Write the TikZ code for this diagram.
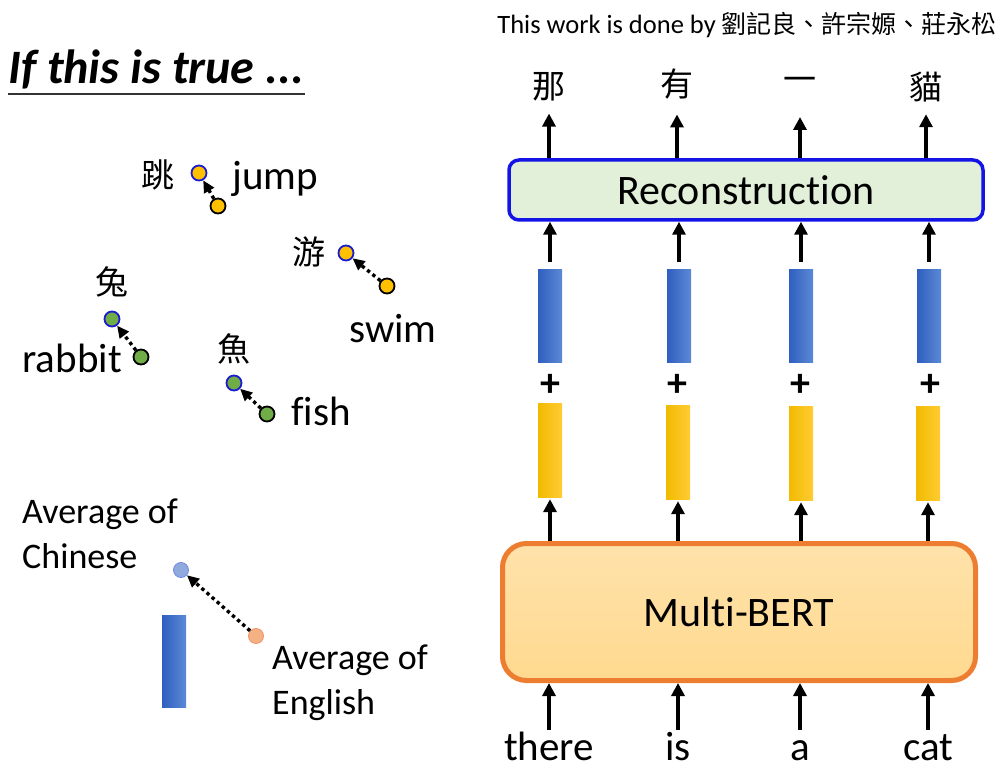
\documentclass[tikz,border=0pt]{standalone}
\usepackage{fontspec}
\setmainfont{Carlito}[Ligatures=NoCommon]
\newfontfamily\cjk{Noto Sans CJK TC}
\usetikzlibrary{arrows.meta,positioning}

\definecolor{rimblue}{HTML}{1C1CD0}
\definecolor{ptyellow}{HTML}{FFC000}
\definecolor{ptgreen}{HTML}{70AD47}
\definecolor{avgblue}{HTML}{8FAADC}
\definecolor{avgorange}{HTML}{F4B183}
\definecolor{barblueL}{HTML}{2F5FBF}
\definecolor{barblueR}{HTML}{5C89D6}
\definecolor{baryelL}{HTML}{F2BA00}
\definecolor{baryelR}{HTML}{FFCC33}
\definecolor{recfill}{HTML}{E2F0D9}
\definecolor{recdraw}{HTML}{1414E6}
\definecolor{mbfill}{HTML}{FFD98F}
\definecolor{mbdraw}{HTML}{ED7D31}

\begin{document}
\begin{tikzpicture}[x=1pt,y=-1pt,
  vec/.style={circle, inner sep=0pt, minimum size=15pt, line width=1.8pt},
  zhvec/.style={vec, draw=rimblue},
  envec/.style={vec, draw=black},
  dotarrow/.style={line width=3.4pt, dash pattern=on 3.4pt off 3.4pt, -{Triangle[length=12pt,width=11pt]}},
  uparrow/.style={line width=4pt, -{Triangle[length=13pt,width=13pt]}},
  word/.style={inner sep=0pt, font=\fontsize{41}{49}\selectfont},
  hanzi/.style={inner sep=0pt, font=\cjk\fontsize{33}{40}\selectfont},
  colword/.style={word, text height=30pt, text depth=9pt, anchor=base},
  bluebar/.style={rectangle, inner sep=0pt, minimum width=24pt, minimum height=92pt, left color=barblueL, right color=barblueR},
  yellowbar/.style={rectangle, inner sep=0pt, minimum width=24pt, minimum height=94pt, left color=baryelL, right color=baryelR},
  plus/.style={inner sep=0pt, font=\bfseries\fontsize{40}{48}\selectfont}
]
\useasboundingbox (0,0) rectangle (999,778);

% title
\node[anchor=base west, inner sep=0pt, font=\bfseries\itshape\fontsize{48}{57}\selectfont] (title) at (8,84) {If this is true ...};
\draw[line width=1.5pt, black!80] (8,94) -- (305,94);

% word pairs
\node[hanzi] (tiao) at (158,175) {跳};
\node[zhvec, fill=ptyellow] (jumpZh) at (199,173) {};
\node[envec, fill=ptyellow] (jumpEn) at (218,206) {};
\node[word, anchor=base west] (jump) at (232,190) {jump};
\draw[dotarrow] (jumpEn) -- (jumpZh);

\node[hanzi] (you) at (309,252) {游};
\node[zhvec, fill=ptyellow] (swimZh) at (346,253) {};
\node[envec, fill=ptyellow] (swimEn) at (387,286) {};
\node[word, anchor=base west] (swim) at (349,342) {swim};
\draw[dotarrow] (swimEn) -- (swimZh);

\node[hanzi] (tu) at (112,282) {兔};
\node[zhvec, fill=ptgreen] (rabbitZh) at (112,319) {};
\node[envec, fill=ptgreen] (rabbitEn) at (141,357) {};
\node[word, anchor=base east] (rabbit) at (122,372) {rabbit};
\draw[dotarrow] (rabbitEn) -- (rabbitZh);

\node[hanzi] (yu) at (234,349) {魚};
\node[zhvec, fill=ptgreen] (fishZh) at (234,383) {};
\node[envec, fill=ptgreen] (fishEn) at (267,414) {};
\node[word, anchor=base west] (fish) at (291,425) {fish};
\draw[dotarrow] (fishEn) -- (fishZh);

% averages
\node[anchor=north west, inner sep=0pt, align=left, font=\fontsize{36}{45}\selectfont] (avgZhText) at (22,499) {Average of\\Chinese};
\node[vec, line width=0.8pt, draw=avgblue!80!blue, fill=avgblue] (avgZh) at (181,570) {};
\node[vec, line width=0.8pt, draw=avgorange!80!red, fill=avgorange] (avgEn) at (256,636) {};
\node[anchor=north west, inner sep=0pt, align=left, font=\fontsize{36}{45}\selectfont] (avgEnText) at (272,645) {Average of\\English};
\draw[dotarrow] (avgEn) -- (avgZh);
\node[bluebar] (diff) at (174,661) {};

% right side
\node[anchor=base east, inner sep=0pt, font=\fontsize{26.5}{32}\selectfont] (credit) at (997,34) {This work is done by {\cjk\fontsize{25}{32}\selectfont 劉記良、許宗嫄、莊永松}};

\node[rectangle, rounded corners=10pt, draw=recdraw, line width=3.5pt, fill=recfill, minimum width=474pt, minimum height=60pt, font=\fontsize{42}{50}\selectfont] (rec) at (746,190) {Reconstruction};
\node[rectangle, rounded corners=24pt, draw=mbdraw, line width=5pt, top color=mbfill!75!white, bottom color=mbfill, minimum width=473pt, minimum height=137pt, font=\fontsize{42}{50}\selectfont] (mb) at (739,612) {Multi-BERT};

% outputs
\node[hanzi] (out1) at (549,87) {那};
\node[hanzi] (out2) at (677,84) {有};
\node[hanzi] (out3) at (800,84) {一};
\node[hanzi] (out4) at (926,87) {貓};
\draw[uparrow, shorten >=12pt] (rec.north -| out1) -- (out1.south);
\draw[uparrow, shorten >=15pt] (rec.north -| out2) -- (out2.south);
\draw[uparrow] (rec.north -| out3) -- (800,117);
\draw[uparrow, shorten >=12pt] (rec.north -| out4) -- (out4.south);

% bars
\node[bluebar] (b1) at (550,316) {};
\node[bluebar] (b2) at (679,316) {};
\node[bluebar] (b3) at (801,316) {};
\node[bluebar] (b4) at (929,316) {};
\node[plus] (p1) at (550,385) {+};
\node[plus] (p2) at (677,385) {+};
\node[plus] (p3) at (800,385) {+};
\node[plus] (p4) at (930,385) {+};
\node[yellowbar] (y1) at (550,450) {};
\node[yellowbar] (y2) at (678,452) {};
\node[yellowbar] (y3) at (801,453) {};
\node[yellowbar] (y4) at (928,453) {};

\draw[uparrow, shorten <=8pt] (b1.north) -- (rec.south -| b1);
\draw[uparrow, shorten <=8pt] (b2.north) -- (rec.south -| b2);
\draw[uparrow, shorten <=8pt] (b3.north) -- (rec.south -| b3);
\draw[uparrow, shorten <=8pt] (b4.north) -- (rec.south -| b4);
\draw[uparrow, shorten >=2pt] (mb.north -| y1) -- (y1.south);
\draw[uparrow, shorten >=2pt] (mb.north -| y2) -- (y2.south);
\draw[uparrow, shorten >=2pt] (mb.north -| y3) -- (y3.south);
\draw[uparrow, shorten >=2pt] (mb.north -| y4) -- (y4.south);

% inputs
\node[colword] (in1) at (549,760) {there};
\node[colword] (in2) at (678,760) {is};
\node[colword] (in3) at (800,760) {a};
\node[colword] (in4) at (928,760) {cat};
\draw[uparrow] (in1.north) -- (mb.south -| in1);
\draw[uparrow] (in2.north) -- (mb.south -| in2);
\draw[uparrow] (in3.north) -- (mb.south -| in3);
\draw[uparrow] (in4.north) -- (mb.south -| in4);

\end{tikzpicture}
\end{document}
